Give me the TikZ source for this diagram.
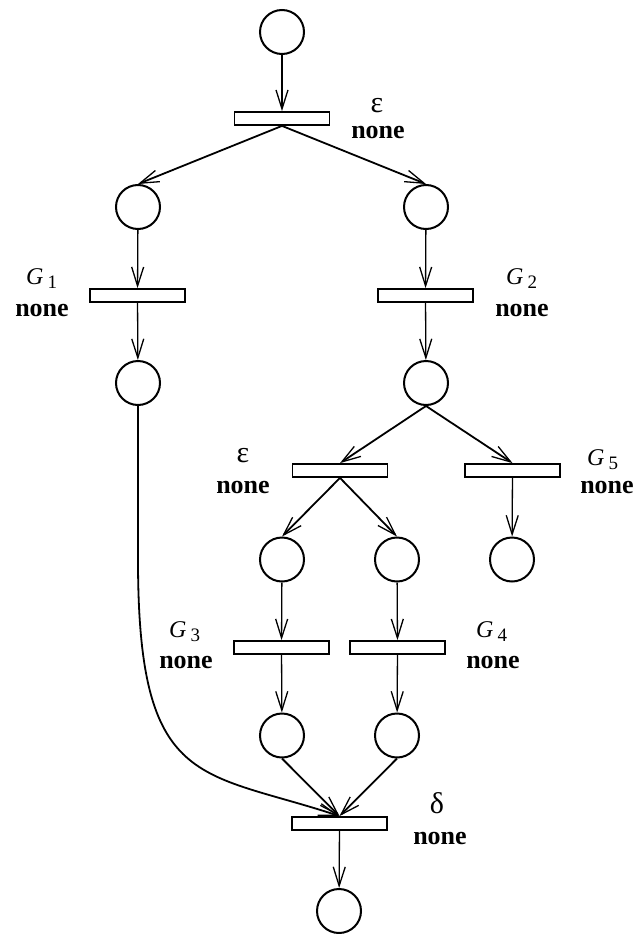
\documentclass[tikz,border=0pt]{standalone}
\usepackage{fontspec}
\setmainfont{Liberation Serif}
\usetikzlibrary{arrows.meta}
\begin{document}
\begin{tikzpicture}[x=1pt,y=-1pt,
 place/.style={circle,draw,line width=2pt,minimum size=44pt,inner sep=0pt},
 trans/.style={rectangle,draw,line width=1.8pt,minimum width=95pt,minimum height=13pt,inner sep=0pt},
 arc/.style={line width=1.3pt,-{Straight Barb[length=19pt,width=12pt,line width=1.3pt]}},
 darc/.style={arc,line width=1.8pt},
 lbl/.style={font=\fontsize{26}{26}\selectfont\bfseries,inner sep=0pt,anchor=base},
 grk/.style={font=\fontsize{30}{30}\selectfont,inner sep=0pt,anchor=base},
 glbl/.style={font=\fontsize{24}{24}\selectfont\itshape,inner sep=0pt,anchor=base west}]
\fill[white] (0,0) rectangle (639,934);
\useasboundingbox (0,0) rectangle (639,934);
\newcommand{\gsub}[1]{G\,\raisebox{-4pt}{\fontsize{19}{19}\selectfont\upshape #1}}
% places
\node[place] (P0) at (282,32) {};
\node[place] (P1) at (138,207) {};
\node[place] (P2) at (426,207) {};
\node[place] (P3) at (138,383) {};
\node[place] (P4) at (426,383) {};
\node[place] (P5) at (282,559.5) {};
\node[place] (P6) at (397,559.5) {};
\node[place] (P7) at (512,559.5) {};
\node[place] (P8) at (282,735.5) {};
\node[place] (P9) at (397,735.5) {};
\node[place] (P10) at (339,911) {};
% transitions
\node[trans] (T0) at (282,118.5) {};
\node[trans] (T1) at (137.5,295.5) {};
\node[trans] (T2) at (425.5,295.5) {};
\node[trans] (T3) at (340,470.5) {};
\node[trans] (T5) at (512.5,470.5) {};
\node[trans] (T4) at (281.5,647.5) {};
\node[trans] (T6) at (397.5,647.5) {};
\node[trans] (T7) at (339.5,823.5) {};
% labels
\node[grk] (e0) at (377,112) {ε};
\node[lbl] (n0) at (378,138) {none};
\node[glbl] (g1) at (26,284) {\gsub{1}};
\node[lbl] (n1) at (42,316) {none};
\node[glbl] (g2) at (506,284) {\gsub{2}};
\node[lbl] (n2) at (522,316) {none};
\node[grk] (e3) at (243,462) {ε};
\node[lbl] (n3) at (243,493) {none};
\node[glbl] (g5) at (587,465) {\gsub{5}};
\node[lbl] (n5) at (607,493) {none};
\node[glbl] (g3) at (169,637) {\gsub{3}};
\node[lbl] (n3b) at (186,668) {none};
\node[glbl] (g4) at (476,637) {\gsub{4}};
\node[lbl] (n4) at (493,668) {none};
\node[grk] (d7) at (437,813) {δ};
\node[lbl] (n7) at (440,844) {none};
% arcs
\draw[arc] (P0) -- (T0);
\draw[darc] (T0.south) -- (P1.north);
\draw[darc] (T0.south) -- (P2.north);
\draw[arc] (P1) -- (T1);
\draw[arc] (T1) -- (P3);
\draw[arc] (P2) -- (T2);
\draw[arc] (T2) -- (P4);
\draw[darc] (P4.south) -- (T3.north);
\draw[darc] (P4.south) -- (T5.north);
\draw[darc] (T3.south) -- (P5.north);
\draw[darc] (T3.south) -- (P6.north);
\draw[arc] (T5) -- (P7);
\draw[arc] (P5) -- (T4);
\draw[arc] (T4) -- (P8);
\draw[arc] (P6) -- (T6);
\draw[arc] (T6) -- (P9);
\draw[darc] (P8.south) -- (T7.north);
\draw[darc] (P9.south) -- (T7.north);
\draw[darc] (P3.south) -- (138,560) .. controls (138,790) and (200,770) .. (T7.north);
\draw[arc] (T7) -- (P10);
\end{tikzpicture}
\end{document}
